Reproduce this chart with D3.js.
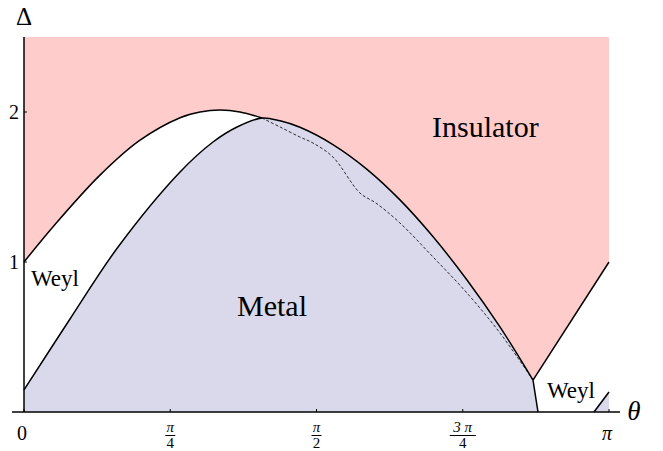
<!DOCTYPE html>
<html lang="en">
<head>
<meta charset="UTF-8">
<title>Phase diagram</title>
<script src="https://d3js.org/d3.v7.min.js"></script>
<style>
  body { margin: 0; background: #fff; }
  svg text { font-family: "Liberation Serif", "Times New Roman", serif; fill: #000; }
</style>
</head>
<body>
<svg id="chart" width="663" height="451"></svg>
<script>
// boundary curves, [theta, Delta]
const upperEdge = [[0, 1.0], [0.1665, 1.25], [0.408, 1.579], [0.623, 1.812], [0.838, 1.962],
  [0.945, 2.0], [1.053, 2.013], [1.160, 2.0], [1.278, 1.96]];
const metalEdge = [[0, 0.147], [0.247, 0.62], [0.505, 1.1], [0.838, 1.6], [1.015, 1.80],
  [1.144, 1.9], [1.278, 1.96], [1.375, 1.941], [1.482, 1.898], [1.659, 1.783], [1.842, 1.618],
  [2.019, 1.414], [2.197, 1.168], [2.379, 0.88], [2.556, 0.567], [2.7335, 0.213]];
const dashedEdge = [[1.278, 1.96], [1.375, 1.90], [1.482, 1.833], [1.552, 1.793], [1.659, 1.70],
  [1.804, 1.46], [1.890, 1.393], [2.019, 1.26], [2.197, 1.033], [2.379, 0.793], [2.556, 0.527],
  [2.7335, 0.213]];
const cornerDrop = [[2.7335, 0.213], [2.7603, 0]];
const insulatorRight = [[2.7335, 0.213], [3.1416, 1.0]];
const weylRight = [[3.0611, 0], [3.1416, 0.133]];

const xTicks = [0, 0.7854, 1.5708, 2.3562, 3.1416];
const xTickNum = ["0", "π", "π", "3 π", "π"];
const xTickDen = [null, "4", "2", "4", null];
const yTicks = [1, 2];

const svg = d3.select("#chart");
const x = d3.scaleLinear().domain([0, Math.PI]).range([24, 609]);
const y = d3.scaleLinear().domain([0, 2.5]).range([412, 37]);

const smooth = d3.curveCatmullRom.alpha(0.5);
const line = d3.line().x(d => x(d[0])).y(d => y(d[1])).curve(smooth);
const straight = d3.line().x(d => x(d[0])).y(d => y(d[1]));

const pink = "#ffcccc", lav = "#d9d9eb";

// insulator background
svg.append("rect")
  .attr("x", x(0)).attr("y", y(2.5))
  .attr("width", x(Math.PI) - x(0)).attr("height", y(0) - y(2.5))
  .attr("fill", pink);

// Weyl (white) on the left
svg.append("path")
  .attr("d", line(upperEdge) + `L${x(1.278)},${y(0)}L${x(0)},${y(0)}Z`)
  .attr("fill", "#fff");

// Weyl (white) on the right
svg.append("path")
  .attr("d", `M${x(2.7335)},${y(0.213)}L${x(Math.PI)},${y(1.0)}L${x(Math.PI)},${y(0)}L${x(2.7335)},${y(0)}Z`)
  .attr("fill", "#fff");

// metal
svg.append("path")
  .attr("d", line(metalEdge) + `L${x(2.7603)},${y(0)}L${x(0)},${y(0)}Z`)
  .attr("fill", lav);

svg.append("path")
  .attr("d", straight(weylRight) + `L${x(Math.PI)},${y(0)}Z`)
  .attr("fill", lav);

// boundary lines
[line(upperEdge), line(metalEdge), straight(cornerDrop), straight(insulatorRight), straight(weylRight)]
  .forEach(d => {
    svg.append("path").attr("d", d)
      .attr("fill", "none").attr("stroke", "#000").attr("stroke-width", 1.5);
  });

svg.append("path").attr("d", line(dashedEdge))
  .attr("fill", "none").attr("stroke", "#000").attr("stroke-width", 0.8)
  .attr("stroke-dasharray", "3,2");

// axes
svg.append("line").attr("x1", 12).attr("x2", 620).attr("y1", y(0)).attr("y2", y(0))
  .attr("stroke", "#000").attr("stroke-width", 1.5);
svg.append("line").attr("x1", x(0)).attr("x2", x(0)).attr("y1", y(0)).attr("y2", y(2.5))
  .attr("stroke", "#000").attr("stroke-width", 1.5);

xTicks.forEach((t, i) => {
  svg.append("line").attr("x1", x(t)).attr("x2", x(t)).attr("y1", y(0)).attr("y2", y(0) - 3)
    .attr("stroke", "#000").attr("stroke-width", 1);
  if (xTickDen[i] === null) {
    svg.append("text").attr("x", x(t) - 2).attr("y", 440)
      .attr("text-anchor", "middle").attr("font-size", 20)
      .attr("font-style", i === 0 ? "normal" : "italic")
      .text(xTickNum[i]);
  } else {
    svg.append("text").attr("x", x(t)).attr("y", 432)
      .attr("text-anchor", "middle").attr("font-size", 15).attr("font-style", "italic")
      .text(xTickNum[i]);
    const w = xTickNum[i].length > 1 ? 13 : 5;
    svg.append("line").attr("x1", x(t) - w).attr("x2", x(t) + w).attr("y1", 435.5).attr("y2", 435.5)
      .attr("stroke", "#000").attr("stroke-width", 1);
    svg.append("text").attr("x", x(t)).attr("y", 448)
      .attr("text-anchor", "middle").attr("font-size", 15)
      .text(xTickDen[i]);
  }
});

yTicks.forEach(t => {
  svg.append("line").attr("x1", x(0)).attr("x2", x(0) + 3).attr("y1", y(t)).attr("y2", y(t))
    .attr("stroke", "#000").attr("stroke-width", 1);
  svg.append("text").attr("x", 19).attr("y", y(t) + 7)
    .attr("text-anchor", "end").attr("font-size", 20).text(t);
});

// axis labels
svg.append("text").attr("x", 24).attr("y", 25).attr("text-anchor", "middle")
  .attr("font-size", 25).text("Δ");
svg.append("text").attr("x", 634).attr("y", 420).attr("text-anchor", "middle")
  .attr("font-size", 27).attr("font-style", "italic").text("θ");

// region labels
svg.append("text").attr("x", 432).attr("y", 137).attr("font-size", 30).text("Insulator");
svg.append("text").attr("x", 237).attr("y", 316).attr("font-size", 30).text("Metal");
svg.append("text").attr("x", 31).attr("y", 286).attr("font-size", 23).text("Weyl");
svg.append("text").attr("x", 547).attr("y", 398).attr("font-size", 23).text("Weyl");
</script>
</body>
</html>
